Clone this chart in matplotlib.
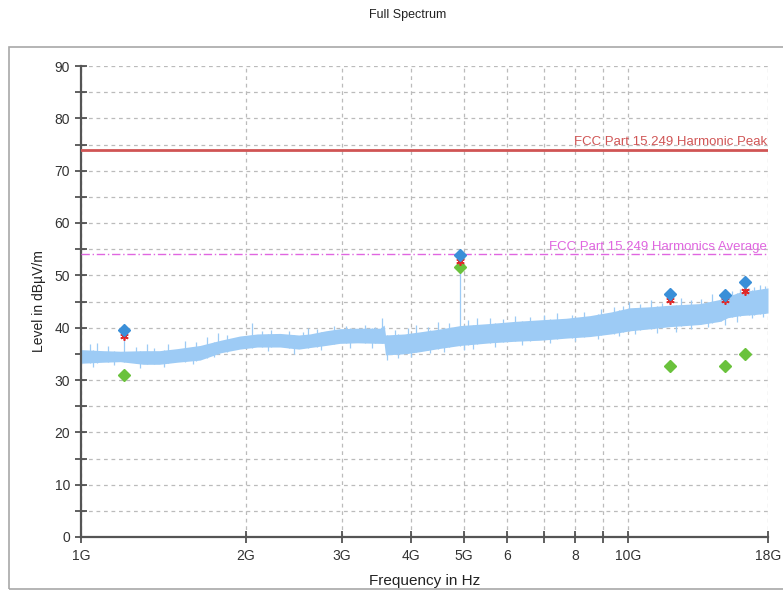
import numpy as np
import matplotlib
matplotlib.use("Agg")
import matplotlib.pyplot as plt
from matplotlib.patches import Rectangle
from matplotlib.ticker import FixedLocator, NullFormatter

plt.rcParams['font.family'] = ['Liberation Sans', 'DejaVu Sans']

# noise floor envelope (GHz, dBuV/m)
env_f = [1.0, 1.1, 1.18, 1.3, 1.39, 1.5, 1.65, 1.8, 1.95, 2.1, 2.31, 2.5, 2.62, 2.8,
         2.97, 3.2, 3.52, 3.58, 3.60, 3.9, 4.16, 4.5, 4.93, 5.59, 6.2, 6.90, 7.7,
         8.51, 9.3, 10.07, 11.0, 11.92, 13.52, 14.71, 15.2, 16.0, 17.0, 18.0]
env_lo = [33.2, 33.4, 33.5, 33.0, 33.0, 33.4, 33.8, 35.2, 35.9, 36.3, 36.3, 35.9, 36.2, 36.6,
          37.0, 37.1, 37.0, 37.0, 34.8, 35.0, 35.4, 36.0, 36.6, 37.1, 37.4, 37.6, 38.0,
          38.3, 38.8, 39.4, 39.8, 40.2, 40.6, 41.2, 41.9, 42.3, 42.5, 42.8]
env_hi = [35.8, 35.6, 35.5, 35.6, 35.6, 36.0, 36.6, 37.6, 38.4, 38.8, 38.9, 38.6, 38.8, 39.4,
          39.8, 39.9, 39.9, 40.5, 38.6, 38.8, 39.2, 39.7, 40.4, 40.8, 41.2, 41.5, 41.8,
          42.3, 43.0, 43.8, 44.0, 44.3, 44.6, 45.4, 46.0, 46.8, 47.2, 47.6]

# spikes above the trace
spike_f = [1.04, 1.07, 1.12, 1.2, 1.26, 1.32, 1.36, 1.44, 1.55, 1.62, 1.7, 1.78, 1.85,
           2.05, 2.14, 2.22, 2.4, 2.55, 2.6, 2.7, 2.9, 3.05, 3.3, 3.45, 3.55, 3.75, 3.95,
           4.1, 4.3, 4.5, 4.7, 4.92, 5.1, 5.3, 5.6, 5.9, 6.2, 6.6, 7.0, 7.4, 7.9, 8.3,
           8.9, 9.4, 9.8, 10.05, 10.5, 11.0, 11.5, 12.5, 13.0, 13.6, 14.2, 14.8, 15.5,
           16.0, 16.6, 17.0, 17.4, 17.8]
spike_top = [36.8, 37.0, 36.5, 38.0, 36.4, 36.8, 36.2, 36.9, 37.5, 37.2, 38.2, 39.0, 38.6,
             40.9, 39.3, 39.5, 39.4, 39.2, 40.0, 39.8, 40.3, 40.4, 40.6, 40.1, 41.8, 39.6, 39.9,
             40.6, 40.2, 41.0, 40.8, 51.6, 41.5, 41.8, 41.9, 41.6, 42.3, 42.0, 42.4, 42.8, 42.5, 43.0,
             43.6, 44.0, 44.2, 45.0, 44.6, 45.2, 44.8, 45.6, 45.3, 45.5, 46.4, 46.0, 47.0,
             47.3, 47.6, 47.8, 48.2, 47.9]

# dips below the trace
dip_f = [1.05, 1.15, 1.28, 1.42, 1.6, 1.75, 2.2, 2.45, 2.75, 3.1, 3.4, 3.62, 3.8, 4.0,
         4.35, 4.6, 5.0, 5.2, 5.7, 6.4, 7.2, 8.0, 8.8, 9.6, 10.3, 11.3, 12.2, 13.0, 14.0,
         15.0, 15.8, 16.8, 17.6]
dip_bot = [32.5, 32.8, 32.2, 32.4, 33.0, 34.4, 35.6, 35.0, 35.7, 36.2, 36.2, 33.8, 34.2, 34.4,
           35.2, 35.4, 35.8, 36.0, 36.3, 36.6, 37.1, 37.4, 37.8, 38.4, 38.8, 39.0, 39.2, 39.8, 40.2,
           40.6, 41.0, 41.8, 42.0]

# final measurement points
meas_f = [1.2, 4.92, 11.92, 15.02, 16.32]
peak = [39.6, 53.9, 46.4, 46.3, 48.7]
peak_lim = [38.4, 52.8, 45.3, 45.3, 47.1]
avg = [31.0, 51.6, 32.7, 32.7, 35.0]

limit_peak = 74.0
limit_avg = 54.0

xticks = [1, 2, 3, 4, 5, 6, 7, 8, 9, 10, 18]
xlabels = ['1G', '2G', '3G', '4G', '5G', '6', '', '8', '', '10G', '18G']

fig = plt.figure(figsize=(7.83, 5.92), dpi=100)
ax = fig.add_axes([81/783, 1-537/592, 687/783, 471/592])

fig.patches.append(Rectangle((9/783, 1-589/592), 1.0, 542/592, transform=fig.transFigure,
                             fill=False, edgecolor='#a8a8a8', lw=1.2))

trace_col = '#9dcbf5'
ax.fill_between(env_f, env_lo, env_hi, color=trace_col, lw=0, zorder=2)
mid = np.interp(spike_f, env_f, env_lo)
ax.vlines(spike_f, mid, spike_top, color=trace_col, lw=0.9, zorder=2)
mid2 = np.interp(dip_f, env_f, env_hi)
ax.vlines(dip_f, dip_bot, mid2, color=trace_col, lw=0.9, zorder=2)

ax.axhline(limit_peak, color='#d05555', lw=2, zorder=3)
ax.axhline(limit_avg, color='#e066e0', lw=1, ls=(0, (6, 2, 1, 2)), zorder=3)
ax.text(17.95, limit_peak + 0.3, 'FCC Part 15.249 Harmonic Peak', color='#d05555',
        ha='right', va='bottom', fontsize=9.5)
ax.text(17.95, limit_avg + 0.3, 'FCC Part 15.249 Harmonics Average', color='#e066e0',
        ha='right', va='bottom', fontsize=9.5)

ax.plot(meas_f, avg, ls='none', marker='D', ms=6.5, color='#6ac23c', zorder=5)
ax.plot(meas_f, peak_lim, ls='none', marker=(6, 2, 0), ms=6, mew=1.2, color='#e02828', zorder=5)
ax.plot(meas_f, peak, ls='none', marker='D', ms=6.5, color='#3a8fd8', zorder=6)

ax.set_xscale('log')
ax.set_xlim(1, 18)
ax.set_ylim(0, 90)
ax.xaxis.set_major_locator(FixedLocator(xticks))
ax.xaxis.set_minor_locator(FixedLocator([]))
ax.xaxis.set_minor_formatter(NullFormatter())
ax.set_xticklabels(xlabels)
ax.set_yticks(np.arange(0, 91, 10))
ax.set_yticks(np.arange(5, 90, 10), minor=True)

ax.grid(True, which='both', axis='y', color='#bbbbbb', ls=(0, (3, 3)), lw=0.9)
ax.grid(True, which='major', axis='x', color='#bbbbbb', ls=(0, (3, 3)), lw=0.9)
ax.set_axisbelow(True)

for s in ['top', 'right']:
    ax.spines[s].set_visible(False)
for s in ['left', 'bottom']:
    ax.spines[s].set_color('#555555')
    ax.spines[s].set_linewidth(1.6)

ax.tick_params(which='both', direction='inout', length=9, width=1.2, color='#444444',
               labelcolor='#333333', labelsize=10)
ax.tick_params(axis='x', pad=4)

ax.set_xlabel('Frequency in Hz', fontsize=11, color='#222222', labelpad=8)
ax.set_ylabel('Level in dBµV/m', fontsize=10, color='#222222', labelpad=6)

fig.text(408/783, 1-15/592, 'Full Spectrum', ha='center', va='center', fontsize=9, color='#222222')

fig.savefig('out.png', dpi=100)
